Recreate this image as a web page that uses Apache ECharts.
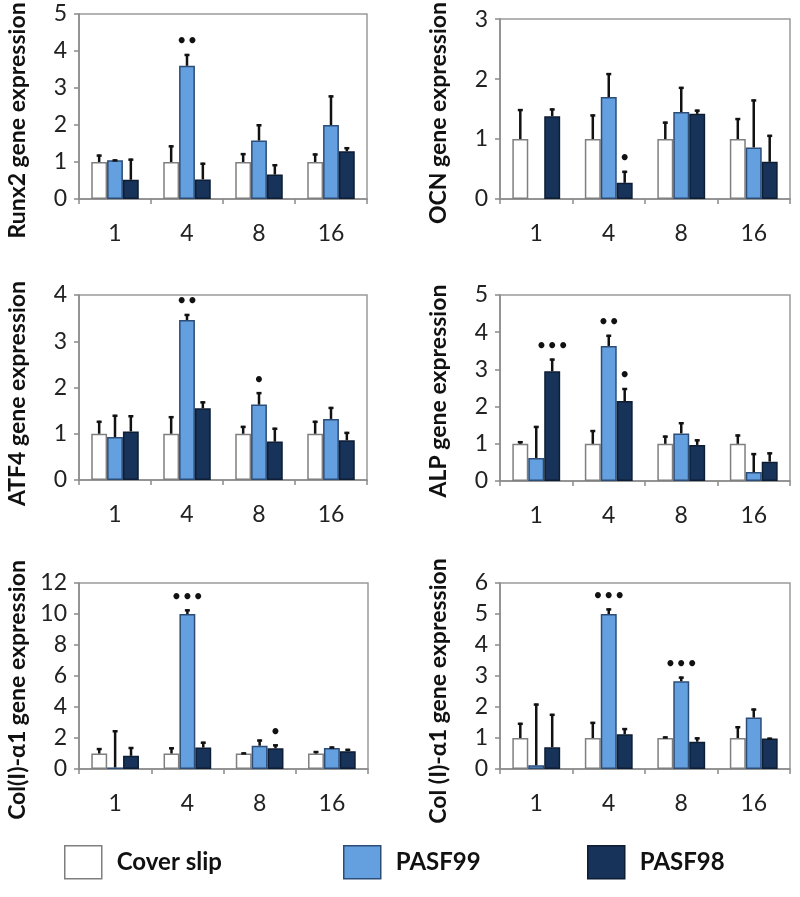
<!DOCTYPE html>
<html>
<head>
<meta charset="utf-8">
<script src="https://cdn.jsdelivr.net/npm/echarts@6/dist/echarts.min.js"></script>
<style>html,body{margin:0;padding:0;background:#fff}#c{width:800px;height:897px}</style>
</head>
<body>
<div id="c"></div>
<script>
// ---- data ----
const categories = ['1', '4', '8', '16'];
const seriesNames = ['Cover slip', 'PASF99', 'PASF98'];

const runx2Cover = [1, 1, 1, 1];
const runx2CoverErr = [0.2, 0.45, 0.24, 0.23];
const runx2P99 = [1.05, 3.6, 1.58, 2.0];
const runx2P99Err = [0.02, 0.32, 0.44, 0.8];
const runx2P98 = [0.52, 0.53, 0.66, 1.29];
const runx2P98Err = [0.57, 0.45, 0.28, 0.11];
const runx2Sig = [['', '', '', ''], ['', '••', '', ''], ['', '', '', '']];

const ocnCover = [1, 1, 1, 1];
const ocnCoverErr = [0.5, 0.41, 0.29, 0.35];
const ocnP99 = [null, 1.7, 1.45, 0.86];
const ocnP99Err = [null, 0.4, 0.42, 0.8];
const ocnP98 = [1.38, 0.27, 1.42, 0.62];
const ocnP98Err = [0.13, 0.2, 0.07, 0.45];
const ocnSig = [['', '', '', ''], ['', '', '', ''], ['', '•', '', '']];

const atf4Cover = [1, 1, 1, 1];
const atf4CoverErr = [0.28, 0.38, 0.17, 0.28];
const atf4P99 = [0.93, 3.46, 1.63, 1.32];
const atf4P99Err = [0.48, 0.13, 0.27, 0.26];
const atf4P98 = [1.05, 1.55, 0.83, 0.86];
const atf4P98Err = [0.35, 0.15, 0.3, 0.18];
const atf4Sig = [['', '', '', ''], ['', '••', '•', ''], ['', '', '', '']];

const alpCover = [1, 1, 1, 1];
const alpCoverErr = [0.07, 0.37, 0.22, 0.25];
const alpP99 = [0.62, 3.63, 1.28, 0.24];
const alpP99Err = [0.86, 0.3, 0.3, 0.51];
const alpP98 = [2.95, 2.15, 0.97, 0.52];
const alpP98Err = [0.34, 0.35, 0.15, 0.25];
const alpSig = [['', '', '', ''], ['', '••', '', ''], ['•••', '•', '', '']];

const colaCover = [1, 1, 1, 1];
const colaCoverErr = [0.35, 0.4, 0.07, 0.16];
const colaP99 = [0.1, 10.0, 1.5, 1.35];
const colaP99Err = [2.4, 0.3, 0.4, 0.1];
const colaP98 = [0.85, 1.38, 1.34, 1.15];
const colaP98Err = [0.57, 0.38, 0.25, 0.15];
const colaSig = [['', '', '', ''], ['', '•••', '', ''], ['', '', '•', '']];

const colbCover = [1, 1, 1, 1];
const colbCoverErr = [0.49, 0.52, 0.05, 0.38];
const colbP99 = [0.12, 5.0, 2.83, 1.66];
const colbP99Err = [1.99, 0.18, 0.15, 0.29];
const colbP98 = [0.7, 1.12, 0.88, 0.98];
const colbP98Err = [1.08, 0.2, 0.14, 0.03];
const colbSig = [['', '', '', ''], ['', '•••', '•••', ''], ['', '', '', '']];

const runx2Ticks = { min: 0, max: 5, interval: 1 };
const ocnTicks = { min: 0, max: 3, interval: 1 };
const atf4Ticks = { min: 0, max: 4, interval: 1 };
const alpTicks = { min: 0, max: 5, interval: 1 };
const colaTicks = { min: 0, max: 12, interval: 2 };
const colbTicks = { min: 0, max: 6, interval: 1 };

// ---- panels ----
const panels = [
  { title: 'Runx2 gene expression', ticks: runx2Ticks, vals: [runx2Cover, runx2P99, runx2P98], errs: [runx2CoverErr, runx2P99Err, runx2P98Err], sig: runx2Sig },
  { title: 'OCN gene expression', ticks: ocnTicks, vals: [ocnCover, ocnP99, ocnP98], errs: [ocnCoverErr, ocnP99Err, ocnP98Err], sig: ocnSig },
  { title: 'ATF4 gene expression', ticks: atf4Ticks, vals: [atf4Cover, atf4P99, atf4P98], errs: [atf4CoverErr, atf4P99Err, atf4P98Err], sig: atf4Sig },
  { title: 'ALP gene expression', ticks: alpTicks, vals: [alpCover, alpP99, alpP98], errs: [alpCoverErr, alpP99Err, alpP98Err], sig: alpSig },
  { title: 'Col(I)-α1 gene expression', ticks: colaTicks, vals: [colaCover, colaP99, colaP98], errs: [colaCoverErr, colaP99Err, colaP98Err], sig: colaSig },
  { title: 'Col (I)-α1 gene expression', ticks: colbTicks, vals: [colbCover, colbP99, colbP98], errs: [colbCoverErr, colbP99Err, colbP98Err], sig: colbSig }
];

// layout (pixels)
const grids = [
  { left: 79, top: 14, width: 288, height: 185, shift: 28 },
  { left: 500, top: 14, width: 290, height: 185, shift: 8 },
  { left: 79, top: 295, width: 288, height: 185, shift: 12 },
  { left: 500, top: 295, width: 290, height: 186, shift: 6 },
  { left: 79, top: 583, width: 289, height: 186, shift: 28 },
  { left: 500, top: 583, width: 290, height: 186, shift: 30 }
];

const fills = ['#ffffff', '#64a0df', '#18335a'];
const borders = ['#7f7f7f', '#2c4d78', '#0d1d33'];
const BAR_FRAC = 0.22;
const FONT = 'Lato, "Open Sans", sans-serif';

const option = {
  backgroundColor: '#ffffff',
  animation: false,
  grid: [], xAxis: [], yAxis: [], series: [],
  legend: [],
};

panels.forEach((p, i) => {
  const g = grids[i];
  option.grid.push({ left: g.left, top: g.top, width: g.width, height: g.height, show: true, borderColor: '#9a9a9a', borderWidth: 1.5, backgroundColor: 'transparent' });
  option.xAxis.push({
    type: 'category', gridIndex: i, data: categories,
    axisLine: { lineStyle: { color: '#8a8a8a', width: 1.5 } },
    axisTick: { show: true, length: 5, lineStyle: { color: '#8a8a8a', width: 1.5 } },
    axisLabel: { fontSize: 23, color: '#222', fontFamily: FONT, margin: 23 }
  });
  option.yAxis.push({
    type: 'value', gridIndex: i, min: p.ticks.min, max: p.ticks.max, interval: p.ticks.interval,
    splitLine: { show: false },
    axisLine: { show: true, lineStyle: { color: '#8a8a8a', width: 1.5 } },
    axisTick: { show: true, length: 5, lineStyle: { color: '#8a8a8a', width: 1.5 } },
    axisLabel: { fontSize: 23, color: '#222', fontFamily: FONT, margin: 12 },
    name: p.title, nameLocation: 'middle', nameGap: 50,
    nameTextStyle: { fontSize: 23, fontWeight: 'bold', color: '#111', fontFamily: FONT, padding: [0, g.shift, 0, 0] }
  });
  for (let s = 0; s < 3; s++) {
    option.series.push({
      type: 'bar', name: seriesNames[s], xAxisIndex: i, yAxisIndex: i,
      data: p.vals[s], barWidth: (BAR_FRAC * 100) + '%', barGap: '0%',
      itemStyle: { color: fills[s], borderColor: borders[s], borderWidth: 1.5 },
      z: 2
    });
  }
  for (let s = 0; s < 3; s++) {
    const data = [];
    p.vals[s].forEach((v, ci) => {
      const e = p.errs[s][ci];
      if (v !== null && e !== null && e !== undefined) data.push([ci, v, e]);
    });
    const sigArr = p.sig[s];
    option.series.push({
      type: 'custom', xAxisIndex: i, yAxisIndex: i, z: 5, silent: true,
      encode: { x: 0, y: 1 },
      data: data,
      renderItem: function (params, api) {
        const ci = api.value(0), v = api.value(1), e = api.value(2);
        const band = api.size([1, 0])[0];
        const bw = band * BAR_FRAC;
        const x = api.coord([ci, 0])[0] + (s - 1) * bw;
        const yBase = api.coord([ci, v])[1];
        const yTop = api.coord([ci, v + e])[1];
        const children = [
          { type: 'line', shape: { x1: x, y1: yBase, x2: x, y2: yTop }, style: { stroke: '#111', lineWidth: 2.5 } },
          { type: 'line', shape: { x1: x - 2.5, y1: yTop + 1, x2: x + 2.5, y2: yTop + 1 }, style: { stroke: '#111', lineWidth: 2.5 } }
        ];
        const st = sigArr[ci];
        if (st) {
          children.push({ type: 'text', x: x, y: yTop - 11, style: { text: st, fontSize: 17, fontWeight: 'bold', fill: '#111', align: 'center', verticalAlign: 'middle', fontFamily: 'DejaVu Sans' } });
        }
        return { type: 'group', children: children };
      }
    });
  }
});

const legendLefts = [64, 343, 587];
seriesNames.forEach((n, k) => {
  option.legend.push({
    data: [n], left: legendLefts[k], top: 845, padding: 0, icon: 'rect', itemWidth: 37, itemHeight: 33,
    selectedMode: false,
    itemStyle: { borderColor: borders[k], borderWidth: 1.5 },
    textStyle: { fontSize: 24, fontWeight: 'bold', color: '#111', fontFamily: FONT, padding: [0, 0, 0, 10] }
  });
});

const chart = echarts.init(document.getElementById('c'), null, { renderer: 'canvas' });
chart.setOption(option);
</script>
</body>
</html>
